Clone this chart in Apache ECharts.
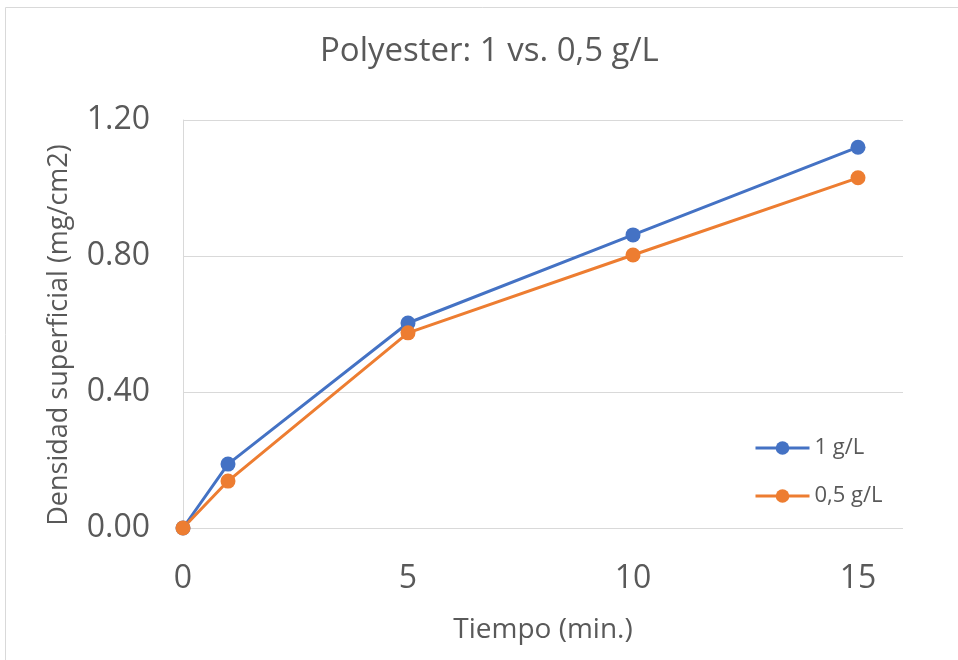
<!DOCTYPE html>
<html><head><meta charset="utf-8">
<script src="https://cdn.jsdelivr.net/npm/echarts@6/dist/echarts.min.js"></script>
<style>html,body{margin:0;padding:0;background:#fff}#c{width:958px;height:660px}</style>
</head><body><div id="c"></div>
<script>
const xValues = [0, 1, 5, 10, 15];
const series1Name = '1 g/L';
const series1 = [0, 0.188, 0.603, 0.862, 1.12];
const series2Name = '0,5 g/L';
const series2 = [0, 0.138, 0.574, 0.803, 1.03];
const titleText = 'Polyester: 1 vs. 0,5 g/L';
const xName = 'Tiempo (min.)';
const yName = 'Densidad superficial (mg/cm2)';

const font = 'Open Sans';
const txt = '#595959';
const chart = echarts.init(document.getElementById('c'));
chart.setOption({
  animation: false,
  textStyle: {fontFamily: font},
  graphic: [{type: 'rect', shape: {x: 5.5, y: 7.5, width: 1000, height: 1000}, style: {fill: 'none', stroke: '#d9d9d9', lineWidth: 1}, silent: true}],
  title: {text: titleText, left: 315, top: 30, textStyle: {fontFamily: font, fontSize: 33, fontWeight: 'normal', color: txt}},
  legend: {
    orient: 'vertical', left: 754, top: 437, padding: 0, itemGap: 26, itemWidth: 54, itemHeight: 17,
    lineStyle: {width: 3},
    textStyle: {fontFamily: font, fontSize: 22, color: txt},
    data: [series1Name, series2Name]
  },
  grid: {left: 183, right: 55, top: 120, bottom: 132, containLabel: false},
  xAxis: {
    type: 'value', min: 0, max: 16, interval: 5,
    name: xName, nameLocation: 'middle', nameGap: 88,
    nameTextStyle: {fontFamily: font, fontSize: 28, color: txt},
    axisLine: {show: false}, axisTick: {show: false}, splitLine: {show: false},
    axisLabel: {fontFamily: font, fontSize: 32, color: txt, margin: 35, showMaxLabel: false,
      formatter: v => (v % 5 === 0 ? String(v) : '')}
  },
  yAxis: {
    type: 'value', min: 0, max: 1.2, interval: 0.4,
    name: yName, nameLocation: 'middle', nameGap: 110, nameRotate: 90,
    nameTextStyle: {fontFamily: font, fontSize: 27, color: txt, padding: [0, 22, 0, 0]},
    axisLine: {show: true, lineStyle: {color: '#d9d9d9', width: 1}}, axisTick: {show: false},
    splitLine: {lineStyle: {color: '#d9d9d9', width: 1}},
    axisLabel: {fontFamily: font, fontSize: 32, color: txt, margin: 33, formatter: v => v.toFixed(2)}
  },
  series: [
    {name: series1Name, type: 'line', data: xValues.map((x, i) => [x, series1[i]]),
      symbol: 'circle', symbolSize: 15, lineStyle: {width: 3, color: '#4472C4'}, itemStyle: {color: '#4472C4'}},
    {name: series2Name, type: 'line', data: xValues.map((x, i) => [x, series2[i]]),
      symbol: 'circle', symbolSize: 15, lineStyle: {width: 3, color: '#ED7D31'}, itemStyle: {color: '#ED7D31'}}
  ]
});
</script></body></html>
